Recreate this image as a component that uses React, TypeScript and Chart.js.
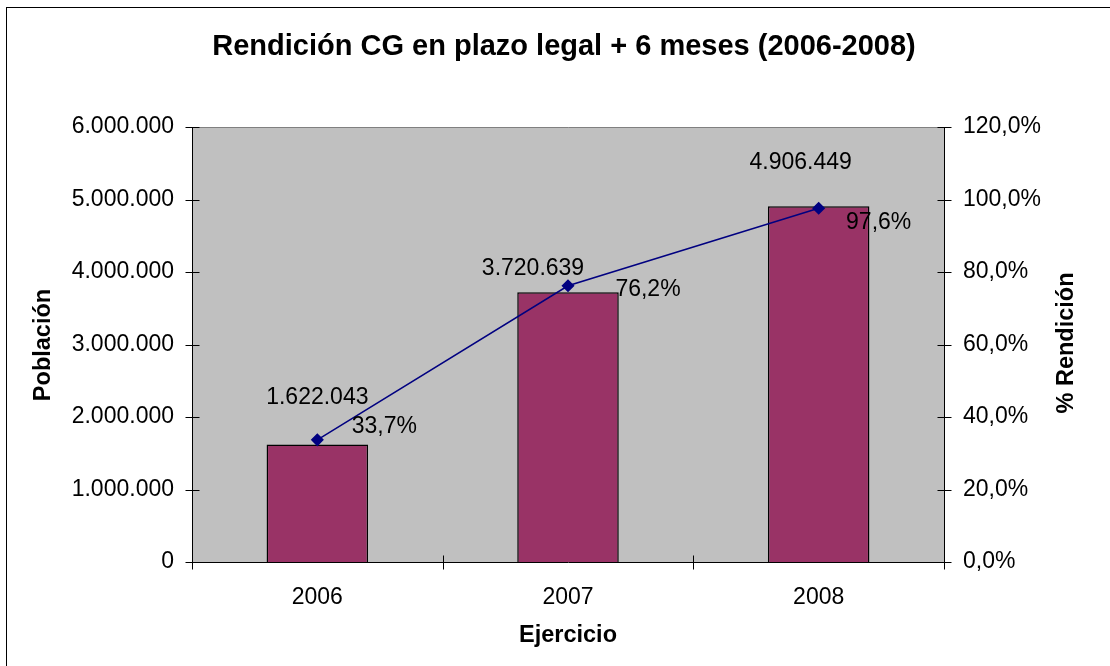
import React, { useEffect, useRef } from "react";
import { Chart, registerables } from "chart.js";

Chart.register(...registerables);

const categories = ["2006", "2007", "2008"];
const poblacion = [1622043, 3720639, 4906449];
const rendicion = [33.7, 76.2, 97.6];

const barLabelOffsets = [[0, -47], [-35, -24], [-18, -44]];
const lineLabelOffsets = [[67, -13], [80, 4], [60, 14]];

const titleText = "Rendición CG en plazo legal + 6 meses (2006-2008)";
const xTitle = "Ejercicio";
const yTitle = "Población";
const y1Title = "% Rendición";

const FONT = "'Liberation Sans', Arial, sans-serif";

function fmtThousands(v: number): string {
  return Math.round(v).toString().replace(/\B(?=(\d{3})+(?!\d))/g, ".");
}
function fmtPct(v: number): string {
  return v.toFixed(1).replace(".", ",") + "%";
}

const decorPlugin = {
  id: "decor",
  beforeDraw(chart: any) {
    const { ctx, chartArea: a } = chart;
    ctx.save();
    ctx.fillStyle = "#ffffff";
    ctx.fillRect(0, 0, chart.width, chart.height);
    ctx.fillStyle = "#C0C0C0";
    ctx.fillRect(a.left, a.top, a.right - a.left, a.bottom - a.top);
    ctx.restore();
  },
  afterDraw(chart: any) {
    const { ctx, chartArea: a } = chart;
    const L = Math.round(a.left) + 0.5;
    const R = Math.round(a.right) + 0.5;
    const T = Math.round(a.top) + 0.5;
    const B = Math.round(a.bottom) + 0.5;
    ctx.save();
    ctx.lineWidth = 1;
    // plot border top (gray)
    ctx.strokeStyle = "#808080";
    ctx.beginPath();
    ctx.moveTo(L, T);
    ctx.lineTo(R, T);
    ctx.stroke();
    // axes
    ctx.strokeStyle = "#000000";
    ctx.beginPath();
    ctx.moveTo(L, T);
    ctx.lineTo(L, B);
    ctx.lineTo(R, B);
    ctx.moveTo(R, T);
    ctx.lineTo(R, B);
    ctx.stroke();
    // ticks
    const ys = chart.scales.y;
    const y1s = chart.scales.y1;
    ctx.beginPath();
    ys.ticks.forEach((t: any) => {
      const p = Math.round(ys.getPixelForValue(t.value)) + 0.5;
      ctx.moveTo(L - 7, p);
      ctx.lineTo(L + 7, p);
    });
    y1s.ticks.forEach((t: any) => {
      const p = Math.round(y1s.getPixelForValue(t.value)) + 0.5;
      ctx.moveTo(R - 7, p);
      ctx.lineTo(R + 7, p);
    });
    const n = categories.length;
    for (let i = 0; i <= n; i++) {
      const x = Math.round(a.left + (i * (a.right - a.left)) / n) + 0.5;
      ctx.moveTo(x, B - 7);
      ctx.lineTo(x, B + 7);
    }
    ctx.stroke();

    // data labels
    ctx.fillStyle = "#000000";
    ctx.font = `23px ${FONT}`;
    ctx.textAlign = "center";
    ctx.textBaseline = "middle";
    const barMeta = chart.getDatasetMeta(1);
    barMeta.data.forEach((el: any, i: number) => {
      const [dx, dy] = barLabelOffsets[i];
      ctx.fillText(fmtThousands(poblacion[i]), el.x + dx, el.y + dy);
    });
    const lineMeta = chart.getDatasetMeta(0);
    lineMeta.data.forEach((el: any, i: number) => {
      const [dx, dy] = lineLabelOffsets[i];
      ctx.fillText(fmtPct(rendicion[i]), el.x + dx, el.y + dy);
    });

    // title
    ctx.font = `bold 29px ${FONT}`;
    ctx.fillText(titleText, 564, 47);
    // axis titles
    ctx.font = `bold 23.5px ${FONT}`;
    ctx.fillText(xTitle, 568, 636);
    ctx.save();
    ctx.translate(44, 345);
    ctx.rotate(-Math.PI / 2);
    ctx.fillText(yTitle, 0, 0);
    ctx.restore();
    ctx.save();
    ctx.translate(1067, 343);
    ctx.rotate(-Math.PI / 2);
    ctx.fillText(y1Title, 0, 0);
    ctx.restore();

    // outer frame
    ctx.strokeStyle = "#000000";
    ctx.lineWidth = 1;
    ctx.strokeRect(6.5, 7.5, chart.width + 20, chart.height + 20);
    ctx.restore();
  },
};

export default function App() {
  const ref = useRef<HTMLCanvasElement | null>(null);
  useEffect(() => {
    if (!ref.current) return;
    const chart = new Chart(ref.current, {
      type: "bar",
      data: {
        labels: categories,
        datasets: [
          {
            type: "line",
            label: "% Rendición",
            data: rendicion,
            yAxisID: "y1",
            borderColor: "#000080",
            backgroundColor: "#000080",
            borderWidth: 1.5,
            pointStyle: "rectRot",
            pointRadius: 5.5,
            pointBackgroundColor: "#000080",
            pointBorderColor: "#000080",
            tension: 0,
            order: 0,
          } as any,
          {
            type: "bar",
            label: "Población",
            data: poblacion,
            yAxisID: "y",
            backgroundColor: "#993366",
            borderColor: "#000000",
            borderWidth: 1.5,
            categoryPercentage: 1,
            barPercentage: 0.405,
            order: 1,
          },
        ],
      },
      options: {
        responsive: false,
        animation: false,
        layout: { padding: { top: 127, left: 0, right: 0, bottom: 0 } },
        plugins: {
          legend: { display: false },
          title: { display: false },
          tooltip: { enabled: false },
        },
        scales: {
          x: {
            type: "category",
            offset: true,
            grid: { display: false, drawTicks: false },
            border: { display: false },
            ticks: {
              color: "#000",
              font: { family: FONT, size: 23 },
              padding: 22,
              maxRotation: 0,
            },
            afterFit(scale: any) {
              scale.height = 104;
            },
          },
          y: {
            position: "left",
            min: 0,
            max: 6000000,
            grid: { display: false, drawTicks: false },
            border: { display: false },
            ticks: {
              stepSize: 1000000,
              color: "#000",
              font: { family: FONT, size: 23 },
              padding: 18,
              callback: (v: any) => fmtThousands(Number(v)),
            },
            afterFit(scale: any) {
              scale.width = 192;
            },
          },
          y1: {
            position: "right",
            min: 0,
            max: 120,
            grid: { display: false, drawTicks: false },
            border: { display: false },
            ticks: {
              stepSize: 20,
              color: "#000",
              font: { family: FONT, size: 23 },
              padding: 19,
              callback: (v: any) => fmtPct(Number(v)),
            },
            afterFit(scale: any) {
              scale.width = 166;
            },
          },
        },
      } as any,
      plugins: [decorPlugin],
    });
    return () => chart.destroy();
  }, []);
  return (
    <div style={{ position: "fixed", left: 0, top: 0, width: 1110, height: 666 }}>
      <canvas ref={ref} width={1110} height={666} style={{ width: 1110, height: 666 }} />
    </div>
  );
}
